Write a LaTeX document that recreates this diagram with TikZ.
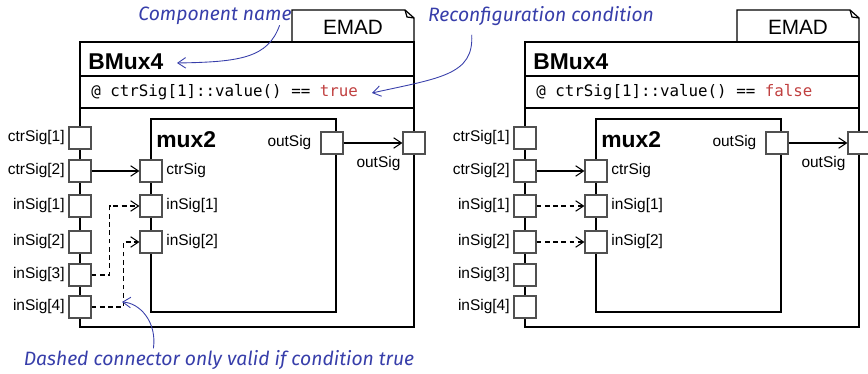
\documentclass[tikz,border=0pt]{standalone}
\usepackage{fontspec}
\setmainfont{Liberation Sans}
\setmonofont{DejaVu Sans Mono}
\newfontfamily\notefont{Fira Sans}
\usetikzlibrary{arrows.meta,positioning}
\definecolor{notecol}{RGB}{55,62,170}
\definecolor{condred}{RGB}{192,64,64}
\definecolor{portgray}{RGB}{80,80,80}
\begin{document}
\begin{tikzpicture}[x=0.02cm,y=-0.02cm,
  port/.style={draw=portgray,fill=white,line width=0.6pt,minimum size=0.44cm,inner sep=0pt},
  lbl/.style={font=\fontsize{8.8}{10}\selectfont,inner sep=1pt},
  title/.style={font=\fontsize{13}{15}\selectfont\bfseries,anchor=base west,inner sep=0pt},
  box/.style={draw,line width=0.7pt},
  conn/.style={-{Straight Barb[length=4.5pt,width=6pt]},line width=0.6pt},
  dconn/.style={conn,dash pattern=on 2.8pt off 1.9pt},
  note/.style={notecol,line width=0.5pt,-{Straight Barb[length=4.5pt,width=6pt]}},
  notetext/.style={font=\notefont\itshape\fontsize{11}{13}\selectfont,text=notecol,inner sep=0pt}]
\useasboundingbox (0,0) rectangle (868,374);

\foreach \b/\dx/\val in {L/0/true,R/445/false}{
\begin{scope}[shift={(\dx,0)}]
% EMAD tab and outer block
\draw[box,fill=white] (292,42) -- (292,10) -- (405,10) -- (414,18) -- (414,42);
\draw[box] (405,10) -- (407,17) -- (414,18);
\draw[box] (80,42) rectangle (414,327);
\draw[box] (80,76) -- (414,76);
\draw[box] (80,108) -- (414,108);
\node[font=\fontsize{11.8}{14}\selectfont] (\b-emad) at (353,27) {EMAD};
\node[title] (\b-name) at (88,70) {BMux4};
\node[anchor=base west,inner sep=0pt,font=\ttfamily\fontsize{9}{11}\selectfont] (\b-cond) at (91,97) {@ ctrSig[1]::value() == \textcolor{condred}{\val}};
% inner component
\draw[box] (151,119) rectangle (336,312);
\node[title] (\b-mux) at (156,148) {mux2};
% ports
\foreach \n/\y/\t in {c1/138/ctrSig[1],c2/171/ctrSig[2],i1/206/inSig[1],i2/242/inSig[2],i3/275/inSig[3],i4/307/inSig[4]}{
  \node[port] (\b-\n) at (80,\y) {};
  \node[lbl,left=1pt of \b-\n] {\t};
}
\foreach \n/\y/\t in {c/171/ctrSig,i1/206/inSig[1],i2/242/inSig[2]}{
  \node[port] (\b-m\n) at (151,\y) {};
  \node[lbl,right=1pt of \b-m\n] {\t};
}
\node[port] (\b-mo) at (332,143) {};
\node[lbl,left=4pt of \b-mo] {outSig};
\node[port] (\b-o) at (414,143) {};
\node[lbl,anchor=north east] at (\b-o.south west) {outSig};
\draw[conn] (\b-c2) -- (\b-mc);
\draw[conn] (\b-mo) -- (\b-o);
\end{scope}}

% dashed connectors
\draw[dconn] (L-i3.east) -- ++(18,0) |- (L-mi1.west);
\draw[dconn] (L-i4.east) -- ++(32,0) |- (L-mi2.west);
\draw[dconn] (R-i1) -- (R-mi1);
\draw[dconn] (R-i2) -- (R-mi2);

% notes
\node[notetext] (cname) at (215,16) {Component name};
\node[notetext] (rcond) at (541,16) {Reconfiguration condition};
\node[notetext] (dnote) at (219,360) {Dashed connector only valid if condition true};
\coordinate (cnTip) at (177,63);
\coordinate (rcTip) at (372,93);
\coordinate (dnTip) at (122,302);
\draw[note] ([xshift=-7pt]cname.south east) .. controls (268,58) and (240,62) .. (cnTip);
\draw[note] ([shift={(25pt,-5pt)}]rcond.south west) .. controls (474,75) and (440,78) .. (rcTip);
\draw[note] ([shift={(74pt,1pt)}]dnote.north west) .. controls (157,322) and (140,303) .. (dnTip);
\end{tikzpicture}
\end{document}
